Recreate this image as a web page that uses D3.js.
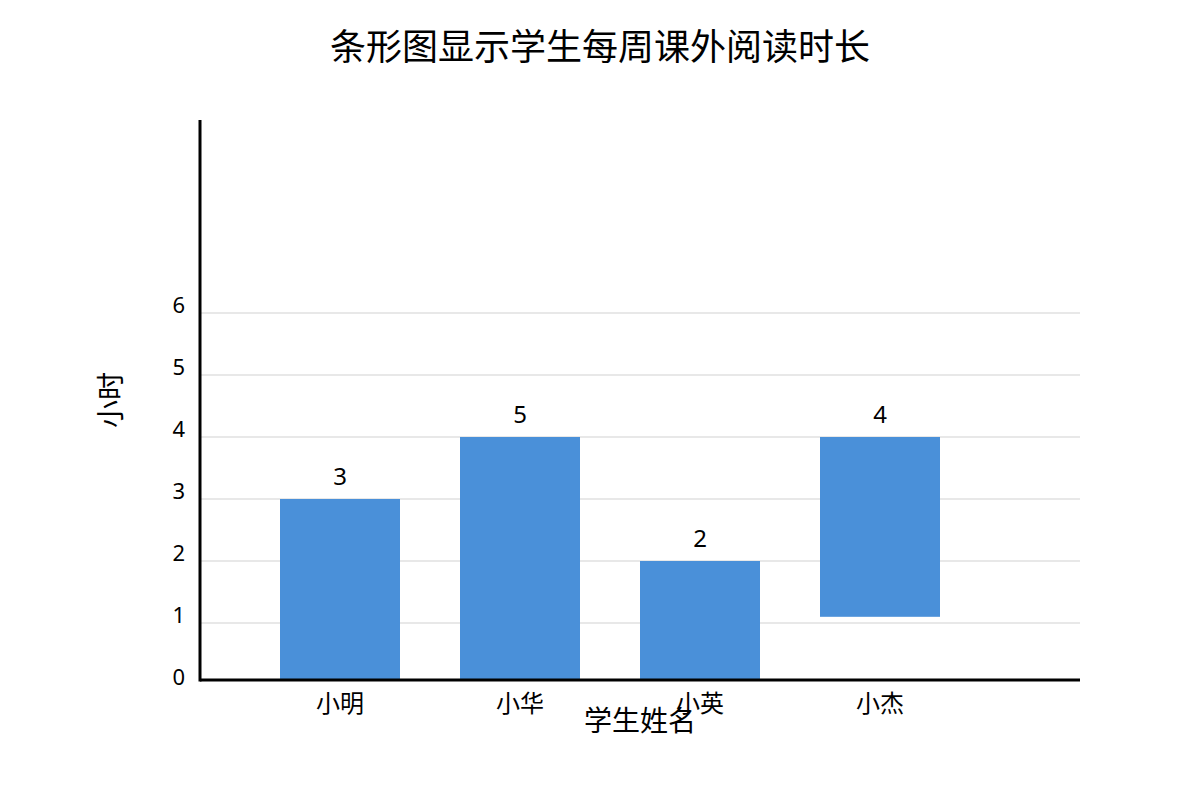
<!DOCTYPE html>
<html lang="zh">
<head>
    <meta charset="UTF-8">
    <title>条形图</title>
    <script src="https://d3js.org/d3.v7.min.js"></script>
    <style>
        body { margin: 0; background: #fff; }
        text { font-family: "Noto Sans", "Noto Sans CJK SC", sans-serif; fill: #000; }
        .grid { stroke: #e0e0e0; stroke-width: 1.5; }
        .bar { fill: #4a90d9; }
    </style>
</head>
<body>
    <script>
        // data
        var students = ["小明", "小华", "小英", "小杰"];
        var barStart = [0, 0, 0, 1.1];
        var barEnd = [3, 4, 2, 4];
        var valueLabels = ["3", "5", "2", "4"];
        var yTicks = [0, 1, 2, 3, 4, 5, 6];

        var svg = d3.select("body").append("svg").attr("width", 1200).attr("height", 800);

        var plotLeft = 200, plotRight = 1080, plotTop = 120, plotBottom = 680;

        var x = d3.scaleBand().domain(students).range([280, 940]).paddingInner(1 / 3).paddingOuter(0);
        var y = d3.scaleLinear().domain([0, 6]).range([685, 313]);

        // title
        svg.append("text").attr("x", 600).attr("y", 60).attr("text-anchor", "middle")
            .style("font-size", "36px").text("条形图显示学生每周课外阅读时长");

        // gridlines
        svg.append("g").selectAll("line").data(yTicks.filter(function (d) { return d > 0; }))
            .enter().append("line").attr("class", "grid")
            .attr("x1", plotLeft).attr("x2", plotRight)
            .attr("y1", function (d) { return y(d); }).attr("y2", function (d) { return y(d); });

        // y tick labels
        svg.append("g").selectAll("text").data(yTicks).enter().append("text")
            .attr("x", 185).attr("y", function (d) { return y(d); })
            .attr("text-anchor", "end").style("font-size", "22px")
            .text(function (d) { return d; });

        // bars, clipped to the plot area
        svg.append("clipPath").attr("id", "plot").append("rect")
            .attr("x", plotLeft).attr("y", plotTop)
            .attr("width", plotRight - plotLeft).attr("height", plotBottom - plotTop);

        var idx = d3.range(students.length);
        svg.append("g").attr("clip-path", "url(#plot)").selectAll("rect").data(idx).enter().append("rect")
            .attr("class", "bar")
            .attr("x", function (i) { return x(students[i]); })
            .attr("width", x.bandwidth())
            .attr("y", function (i) { return y(barEnd[i]); })
            .attr("height", function (i) { return y(barStart[i]) - y(barEnd[i]); });

        // value labels above the bars
        svg.append("g").selectAll("text").data(idx).enter().append("text")
            .attr("x", function (i) { return x(students[i]) + x.bandwidth() / 2; })
            .attr("y", function (i) { return y(barEnd[i]) - 14; })
            .attr("text-anchor", "middle").style("font-size", "24px")
            .text(function (i) { return valueLabels[i]; });

        // axis lines
        svg.append("line").attr("x1", plotLeft).attr("x2", plotRight).attr("y1", plotBottom).attr("y2", plotBottom)
            .attr("stroke", "#000").attr("stroke-width", 3);
        svg.append("line").attr("x1", plotLeft).attr("x2", plotLeft).attr("y1", plotTop).attr("y2", plotBottom + 1.5)
            .attr("stroke", "#000").attr("stroke-width", 3);

        // x tick labels
        svg.append("g").selectAll("text").data(students).enter().append("text")
            .attr("x", function (d) { return x(d) + x.bandwidth() / 2; })
            .attr("y", 712).attr("text-anchor", "middle").style("font-size", "24px")
            .text(function (d) { return d; });

        // axis titles (the x title overlaps 小英 in the original too)
        svg.append("text").attr("x", 640).attr("y", 731).attr("text-anchor", "middle")
            .style("font-size", "28px").text("学生姓名");
        svg.append("text").attr("transform", "translate(121,400) rotate(-90)").attr("text-anchor", "middle")
            .style("font-size", "28px").text("小时");
    </script>
</body>
</html>
